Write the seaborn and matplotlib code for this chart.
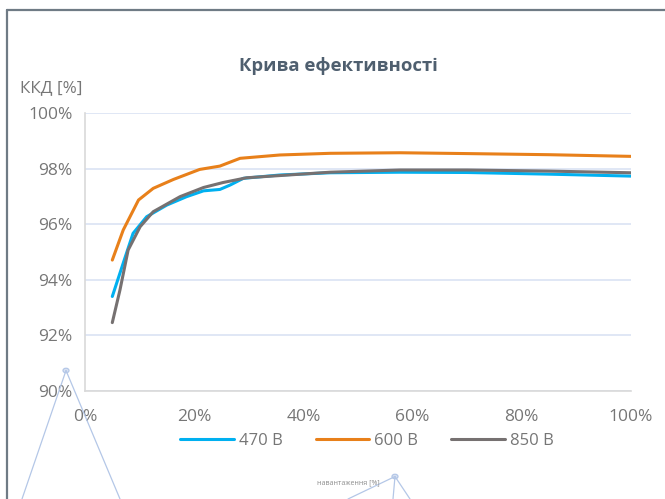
import numpy as np
import pandas as pd
import matplotlib.pyplot as plt
import seaborn as sns
from matplotlib.lines import Line2D
from matplotlib.patches import Circle

# Load in percent, efficiency in percent
load_470 = [5, 7, 8.8, 11.3, 15, 18.6, 21.7, 24.7, 26.6, 29, 35.7, 44.9, 57.7, 70, 85, 100]
eff_470 = [93.4, 94.6, 95.67, 96.27, 96.69, 96.99, 97.2, 97.25, 97.41, 97.65, 97.77, 97.85, 97.87, 97.86, 97.8, 97.73]

load_600 = [5, 7, 9.8, 12.5, 16.2, 21, 24.7, 28.4, 35.7, 44.9, 57.7, 70, 85, 100]
eff_600 = [94.71, 95.79, 96.87, 97.29, 97.61, 97.97, 98.09, 98.37, 98.49, 98.55, 98.57, 98.54, 98.5, 98.44]

load_850 = [5, 6.4, 7.9, 10.1, 12.5, 17.4, 21.7, 25.3, 29.6, 44.9, 57.7, 70, 85, 100]
eff_850 = [92.46, 93.63, 95.07, 95.91, 96.45, 96.99, 97.32, 97.5, 97.67, 97.87, 97.95, 97.95, 97.91, 97.85]

series_names = ['470 В', '600 В', '850 В']
series_colors = ['#00b0f0', '#e8801a', '#767171']

x_ticks = [0, 20, 40, 60, 80, 100]
y_ticks = [90, 92, 94, 96, 98, 100]

df = pd.concat([
    pd.DataFrame({'load': load_470, 'eff': eff_470, 'series': series_names[0]}),
    pd.DataFrame({'load': load_600, 'eff': eff_600, 'series': series_names[1]}),
    pd.DataFrame({'load': load_850, 'eff': eff_850, 'series': series_names[2]}),
])

sns.set_style('white')
plt.rcParams['font.family'] = ['Open Sans', 'DejaVu Sans']

W, H = 665, 499
fig = plt.figure(figsize=(W / 100, H / 100), dpi=100)
ax = fig.add_axes([85 / W, 1 - 391 / H, (631 - 85) / W, (391 - 113) / H])

sns.lineplot(data=df, x='load', y='eff', hue='series', palette=series_colors,
             linewidth=2.2, ax=ax, legend=False, sort=False)

ax.set_xlim(0, 100)
ax.set_ylim(90, 100)
ax.set_xticks(x_ticks)
ax.set_yticks(y_ticks)
ax.set_xticklabels([f'{t}%' for t in x_ticks])
ax.set_yticklabels([f'{t}%' for t in y_ticks])
ax.tick_params(axis='both', length=0, labelsize=12.5, labelcolor='#767676')
ax.tick_params(axis='x', pad=13)
ax.tick_params(axis='y', pad=9)
ax.set_xlabel('')
ax.set_ylabel('')
ax.yaxis.grid(True, color='#dae3f3', linewidth=1.2)
ax.xaxis.grid(False)
ax.set_axisbelow(True)
for s in ['top', 'right']:
    ax.spines[s].set_visible(False)
for s in ['left', 'bottom']:
    ax.spines[s].set_color('#d9d9d9')
    ax.spines[s].set_linewidth(1.2)

# Legend
handles = [Line2D([0], [0], color=c, linewidth=2.2) for c in series_colors]
fig.legend(handles, series_names, loc='center', bbox_to_anchor=(367 / W, 1 - 441 / H),
           ncol=3, frameon=False, fontsize=12, labelcolor='#767676',
           handlelength=3.2, handletextpad=0.3, columnspacing=2.0)

# Title and axis caption
fig.text(338 / W, 1 - 66 / H, 'Крива ефективності', ha='center', va='center',
         fontsize=13.3, fontweight='bold', color='#4f5f6f')
fig.text(20 / W, 1 - 88 / H, 'ККД [%]', ha='left', va='center',
         fontsize=12.3, color='#767676')
fig.text(317 / W, 1 - 483 / H, 'навантаження [%]', ha='left', va='center',
         fontsize=5, color='#8c8c8c')

# Stray leader lines
lc = '#b4c7e7'
def px(x, y):
    return (x / W, 1 - y / H)
for (cx, cy), ends in [((66, 370.5), [(22, 499), (120, 499)]),
                       ((395, 476.5), [(348, 499), (393, 499), (410, 499)])]:
    for ex, ey in ends:
        fig.add_artist(Line2D([cx / W, ex / W], [1 - cy / H, 1 - ey / H],
                              color=lc, linewidth=0.9, transform=fig.transFigure))
    fig.add_artist(Circle(px(cx, cy), 3 / W, transform=fig.transFigure,
                          facecolor='#dae3f3', edgecolor=lc, linewidth=0.9))

# Outer frame
fc = '#6f7b85'
fig.add_artist(Line2D([7 / W, 1], [1 - 10 / H, 1 - 10 / H], color=fc, linewidth=1.6,
                      transform=fig.transFigure))
fig.add_artist(Line2D([7 / W, 7 / W], [0, 1 - 10 / H], color=fc, linewidth=1.6,
                      transform=fig.transFigure))

fig.savefig('out.png', dpi=100)
